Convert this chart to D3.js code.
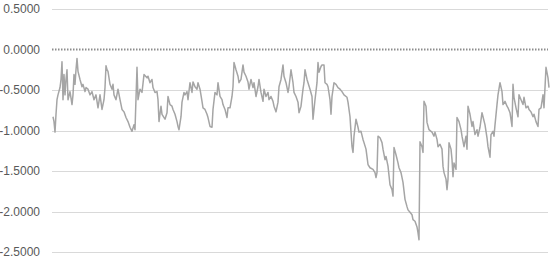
<!DOCTYPE html>
<html>
<head>
<meta charset="utf-8">
<script src="https://cdn.jsdelivr.net/npm/d3@7"></script>
<style>
  body { margin: 0; background: #fff; }
  svg { display: block; }
</style>
</head>
<body>
<div id="chart"></div>
<script>
// y-axis ticks
const yTicks = [0.5, 0, -0.5, -1.0, -1.5, -2.0, -2.5];

// series: [period index, value]
const series = [
  [0,-0.83],[1,-0.89],[2,-1.02],[3,-0.80],[4,-0.62],[5,-0.56],[7,-0.47],[8,-0.37],[9,-0.15],[10,-0.62],
  [11,-0.31],[12,-0.56],[13,-0.37],[14,-0.25],[15,-0.62],[17,-0.52],[19,-0.68],[20,-0.56],[21,-0.31],[22,-0.43],
  [23,-0.25],[24,-0.11],[25,-0.27],[27,-0.37],[29,-0.46],[30,-0.43],[32,-0.52],[33,-0.47],[35,-0.49],[37,-0.56],
  [39,-0.52],[41,-0.62],[43,-0.56],[45,-0.72],[47,-0.56],[49,-0.74],[51,-0.62],[52,-0.47],[53,-0.20],[54,-0.25],
  [55,-0.27],[57,-0.43],[59,-0.49],[60,-0.43],[61,-0.56],[63,-0.62],[65,-0.49],[67,-0.62],[69,-0.74],[71,-0.77],
  [73,-0.84],[75,-0.89],[77,-0.96],[79,-1.01],[81,-0.93],[82,-0.99],[84,-0.22],[85,-0.62],[87,-0.49],[89,-0.53],
  [91,-0.31],[94,-0.35],[95,-0.33],[97,-0.41],[99,-0.37],[100,-0.47],[102,-0.53],[104,-0.52],[105,-0.62],[106,-0.89],
  [108,-0.70],[109,-0.80],[112,-0.86],[114,-0.78],[115,-0.58],[117,-0.68],[119,-0.70],[120,-0.74],[122,-0.80],[124,-0.89],
  [125,-0.95],[126,-0.99],[128,-0.83],[129,-0.65],[131,-0.53],[132,-0.56],[134,-0.52],[135,-0.62],[137,-0.41],[139,-0.53],
  [140,-0.40],[142,-0.46],[144,-0.49],[145,-0.41],[147,-0.49],[149,-0.64],[150,-0.72],[152,-0.74],[154,-0.80],[155,-0.84],
  [157,-0.95],[159,-0.96],[160,-0.74],[162,-0.53],[164,-0.56],[165,-0.41],[167,-0.58],[169,-0.62],[170,-0.68],[172,-0.74],
  [174,-0.84],[175,-0.72],[177,-0.72],[179,-0.58],[180,-0.46],[181,-0.16],[183,-0.25],[185,-0.33],[186,-0.41],[188,-0.37],
  [190,-0.19],[191,-0.28],[193,-0.33],[195,-0.40],[196,-0.49],[198,-0.37],[200,-0.47],[201,-0.41],[203,-0.58],[205,-0.46],
  [206,-0.37],[208,-0.53],[210,-0.64],[211,-0.49],[213,-0.58],[215,-0.53],[216,-0.62],[218,-0.58],[220,-0.64],[221,-0.70],
  [223,-0.77],[225,-0.65],[226,-0.46],[228,-0.37],[230,-0.19],[231,-0.33],[233,-0.41],[235,-0.53],[236,-0.46],[238,-0.25],
  [240,-0.41],[241,-0.53],[243,-0.58],[245,-0.65],[246,-0.78],[248,-0.70],[250,-0.49],[251,-0.41],[252,-0.25],[254,-0.37],
  [255,-0.41],[257,-0.49],[259,-0.58],[260,-0.86],[262,-0.62],[264,-0.41],[265,-0.16],[266,-0.28],[268,-0.21],[269,-0.19],
  [271,-0.19],[272,-0.41],[274,-0.43],[275,-0.46],[277,-0.62],[278,-0.80],[279,-0.58],[281,-0.41],[283,-0.43],[285,-0.47],
  [287,-0.49],[289,-0.52],[291,-0.56],[294,-0.59],[295,-0.65],[297,-0.83],[298,-1.02],[299,-1.20],[300,-1.27],[301,-1.07],
  [303,-0.86],[305,-0.96],[306,-1.02],[308,-1.01],[310,-1.11],[311,-1.15],[313,-1.23],[315,-1.42],[317,-1.46],[320,-1.48],
  [322,-1.52],[323,-1.58],[324,-1.52],[325,-1.07],[327,-1.09],[329,-1.15],[330,-1.23],[332,-1.36],[333,-1.32],[335,-1.44],
  [337,-1.67],[339,-1.73],[340,-1.81],[341,-1.21],[343,-1.30],[345,-1.40],[346,-1.46],[348,-1.52],[350,-1.64],[352,-1.85],
  [354,-1.94],[355,-1.98],[357,-2.01],[359,-2.04],[360,-2.10],[362,-2.12],[364,-2.19],[365,-2.26],[366,-2.35],[367,-1.14],
  [369,-1.20],[370,-1.27],[371,-0.64],[373,-0.70],[374,-0.90],[376,-0.99],[378,-1.01],[379,-1.02],[381,-1.07],[382,-1.02],
  [384,-1.11],[385,-1.20],[387,-1.17],[389,-1.23],[390,-1.44],[391,-1.52],[393,-1.60],[394,-1.73],[395,-1.60],[396,-1.15],
  [398,-1.23],[399,-1.36],[400,-1.57],[401,-1.40],[403,-1.48],[404,-0.84],[406,-0.89],[408,-0.99],[409,-1.07],[411,-1.20],
  [413,-1.07],[414,-1.23],[415,-0.70],[417,-0.80],[419,-0.95],[420,-0.89],[422,-1.05],[424,-0.99],[425,-1.07],[427,-0.96],
  [429,-0.78],[430,-0.83],[432,-0.93],[434,-1.09],[435,-1.20],[437,-1.33],[438,-1.05],[440,-1.01],[441,-1.07],[442,-0.93],
  [444,-0.68],[445,-0.56],[447,-0.41],[449,-0.52],[450,-0.68],[452,-0.64],[454,-0.70],[455,-0.72],[457,-0.78],[459,-0.95],
  [460,-0.43],[461,-0.59],[463,-0.72],[465,-0.83],[466,-0.56],[468,-0.62],[470,-0.68],[471,-0.59],[473,-0.72],[475,-0.70],
  [476,-0.74],[478,-0.77],[480,-0.83],[481,-0.80],[483,-0.89],[485,-0.95],[486,-0.74],[488,-0.72],[490,-0.56],[491,-0.72],
  [493,-0.22],[495,-0.35],[496,-0.47]
];

const width = 554, height = 277;
const svg = d3.select('#chart').append('svg')
  .attr('width', width)
  .attr('height', height);

const x = d3.scaleLinear().domain([0, 496]).range([53, 549]);
const y = d3.scaleLinear().domain([-2.5, 0.5]).range([252, 9]);

// gridlines (0 is drawn separately as a dotted line)
svg.append('g')
  .selectAll('line')
  .data(yTicks.filter(d => d !== 0))
  .enter().append('line')
  .attr('x1', 52).attr('x2', 548)
  .attr('y1', d => Math.round(y(d)) + 0.5)
  .attr('y2', d => Math.round(y(d)) + 0.5)
  .attr('stroke', '#d9d9d9')
  .attr('stroke-width', 1);

// tick labels
svg.append('g')
  .selectAll('text')
  .data(yTicks)
  .enter().append('text')
  .attr('x', 40)
  .attr('y', d => y(d))
  .attr('dy', '0.35em')
  .attr('text-anchor', 'end')
  .attr('font-family', 'Liberation Sans, Arial, sans-serif')
  .attr('font-size', '12px')
  .attr('fill', '#595959')
  .text(d => d.toFixed(4));

// zero line, dotted
svg.append('line')
  .attr('x1', 52).attr('x2', 548)
  .attr('y1', y(0)).attr('y2', y(0))
  .attr('stroke', '#8c8c8c')
  .attr('stroke-width', 2)
  .attr('stroke-dasharray', '1.5,1.5');

// series line
const line = d3.line()
  .x(d => x(d[0]))
  .y(d => y(d[1]));

svg.append('path')
  .datum(series)
  .attr('fill', 'none')
  .attr('stroke', '#a5a5a5')
  .attr('stroke-width', 1.5)
  .attr('stroke-linejoin', 'round')
  .attr('d', line);
</script>
</body>
</html>
